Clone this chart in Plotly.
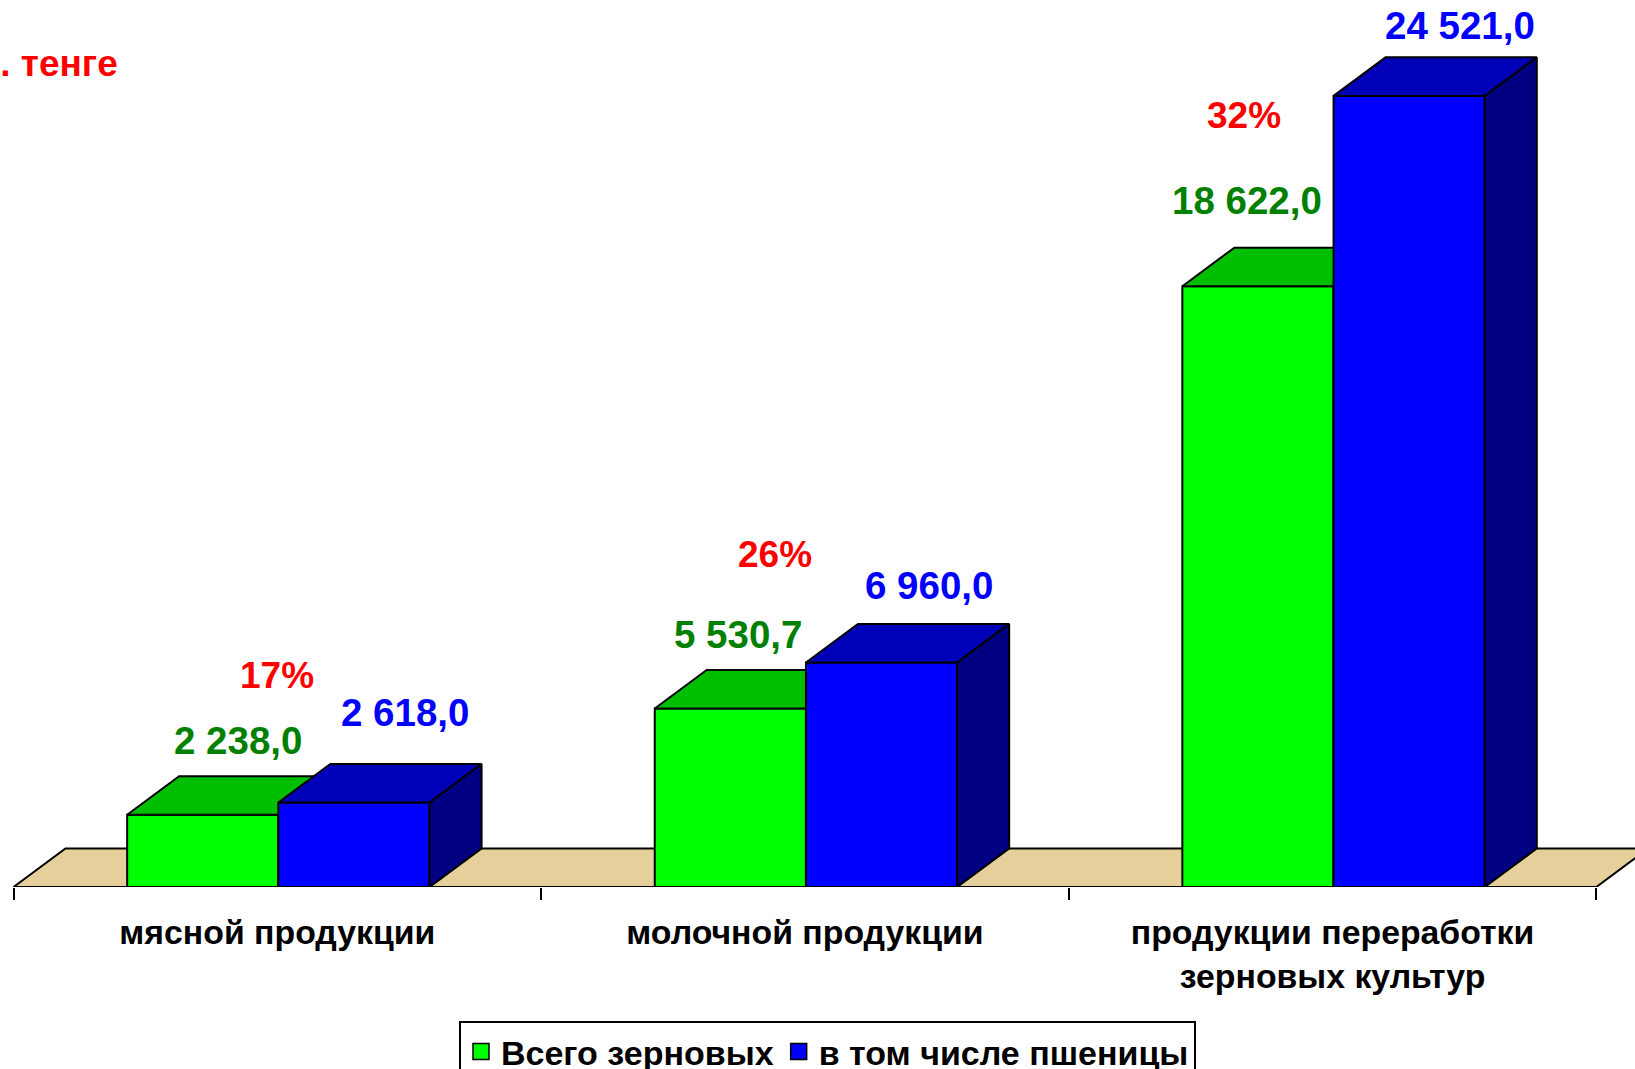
import plotly.graph_objects as go

# Data
categories = ["мясной продукции", "молочной продукции", "продукции переработки<br>зерновых культур"]
grain_total = [2238.0, 5530.7, 18622.0]
wheat = [2618.0, 6960.0, 24521.0]
growth_pct = [17, 26, 32]
series_names = ["Всего зерновых", "в том числе пшеницы"]
unit_text = "млн. тенге"

W, H = 1635, 1069
FONT = "Liberation Sans"
EDGE = dict(color="black", width=2)

# px geometry of the axes
AXIS_LEFT = 13.5
AXIS_Y = 887.5
CAT_PX = 527.6
UNIT_PX = 0.03228
BAR_W = 0.2866
DEPTH_X = 52 / CAT_PX
DEPTH_Y = 38.6 / UNIT_PX

x_range = [-AXIS_LEFT / CAT_PX, (W - AXIS_LEFT) / CAT_PX]
y_range = [0, AXIS_Y / UNIT_PX]


def px_x(px):
    return (px - AXIS_LEFT) / CAT_PX


def px_y(py):
    return (AXIS_Y - py) / UNIT_PX


def fmt(v):
    return f"{v:,.1f}".replace(",", " ").replace(".", ",")


def faces(x_left, x_right, v, top_color, side_color, xa, ya):
    top = go.Scatter(
        x=[x_left, x_right, x_right + DEPTH_X, x_left + DEPTH_X, x_left],
        y=[v, v, v + DEPTH_Y, v + DEPTH_Y, v],
        mode="lines", fill="toself", fillcolor=top_color,
        line=EDGE, xaxis=xa, yaxis=ya,
        showlegend=False, hoverinfo="skip", cliponaxis=False)
    side = go.Scatter(
        x=[x_right, x_right + DEPTH_X, x_right + DEPTH_X, x_right, x_right],
        y=[0, DEPTH_Y, v + DEPTH_Y, v, 0],
        mode="lines", fill="toself", fillcolor=side_color,
        line=EDGE, xaxis=xa, yaxis=ya,
        showlegend=False, hoverinfo="skip", cliponaxis=False)
    return [top, side]


fig = go.Figure()

# floor
fig.add_trace(go.Scatter(
    x=[0, 3, 3 + DEPTH_X, DEPTH_X, 0], y=[0, 0, DEPTH_Y, DEPTH_Y, 0],
    mode="lines", fill="toself", fillcolor="#E5D09B",
    line=EDGE, showlegend=False,
    hoverinfo="skip", cliponaxis=False))

centers = [i + 0.502 for i in range(len(categories))]
green_x = [c - BAR_W / 2 for c in centers]
blue_x = [c + BAR_W / 2 for c in centers]

fig.add_trace(go.Bar(x=green_x, y=grain_total, width=BAR_W, name=series_names[0],
                     marker=dict(color="#00FF00", line=EDGE), showlegend=False,
                     xaxis="x2", yaxis="y2", cliponaxis=False))
fig.add_trace(go.Bar(x=blue_x, y=wheat, width=BAR_W, name=series_names[1],
                     marker=dict(color="#0000FF", line=EDGE), showlegend=False,
                     xaxis="x3", yaxis="y3", cliponaxis=False))

for x, v in zip(green_x, grain_total):
    for t in faces(x - BAR_W / 2, x + BAR_W / 2, v, "#00BF00", "#008000", "x2", "y2"):
        fig.add_trace(t)
for x, v in zip(blue_x, wheat):
    for t in faces(x - BAR_W / 2, x + BAR_W / 2, v, "#0000B8", "#000080", "x3", "y3"):
        fig.add_trace(t)

# legend swatches, bigger than the fixed bar swatch
for name, color in zip(series_names, ["#00FF00", "#0000FF"]):
    fig.add_trace(go.Scatter(x=[None], y=[None], mode="markers", name=name,
                             marker=dict(symbol="square", size=16, color=color,
                                         line=dict(color="black", width=1.5))))

annotations = []


def label(text, px, py, color, size=38.5):
    annotations.append(dict(x=px_x(px), y=px_y(py), text=f"<b>{text}</b>", showarrow=False,
                            font=dict(family=FONT, size=size, color=color),
                            xanchor="center", yanchor="middle"))


green_px = [(238, 741), (738, 635), (1247, 201)]
blue_px = [(405, 713), (929, 586), (1460, 26)]
pct_px = [(277, 676), (775, 555), (1244, 116)]
for i in range(3):
    label(fmt(grain_total[i]), *green_px[i], "#008000")
    label(fmt(wheat[i]), *blue_px[i], "#0000FF")
    label(f"{growth_pct[i]}%", *pct_px[i], "#FF0000", size=37)

annotations.append(dict(x=px_x(119.5), y=px_y(64), text=f"<b>{unit_text}</b>", showarrow=False,
                        font=dict(family=FONT, size=37, color="#FF0000"),
                        xanchor="right", yanchor="middle"))

fig.update_layout(
    width=W, height=H,
    margin=dict(l=0, r=0, t=0, b=H - AXIS_Y),
    paper_bgcolor="white", plot_bgcolor="white",
    barmode="overlay",
    font=dict(family=FONT, color="black"),
    annotations=annotations,
    legend=dict(orientation="h", x=459 / W, xanchor="left",
                yref="container", y=1 - 1021 / H, yanchor="top",
                bordercolor="black", borderwidth=2, bgcolor="white",
                font=dict(family=FONT, size=34, color="black", weight="bold")),
    xaxis=dict(range=x_range, showgrid=False, zeroline=False, showline=False,
               tickmode="array", tickvals=[0.5, 1.5, 2.5], ticktext=categories,
               ticks="", ticklabelstandoff=22,
               tickfont=dict(family=FONT, size=33.8, color="black", weight="bold"),
               minor=dict(tickmode="array", tickvals=[0, 1, 2, 3], ticks="outside",
                          ticklen=12, tickwidth=1.5, tickcolor="black", showgrid=False)),
    yaxis=dict(range=y_range, visible=False),
    xaxis2=dict(range=x_range, overlaying="x", visible=False),
    yaxis2=dict(range=y_range, overlaying="y", visible=False),
    xaxis3=dict(range=x_range, overlaying="x", visible=False),
    yaxis3=dict(range=y_range, overlaying="y", visible=False),
)

fig.write_html("out.html", config={"displayModeBar": False},
               post_script="document.body.style.margin='0';")
